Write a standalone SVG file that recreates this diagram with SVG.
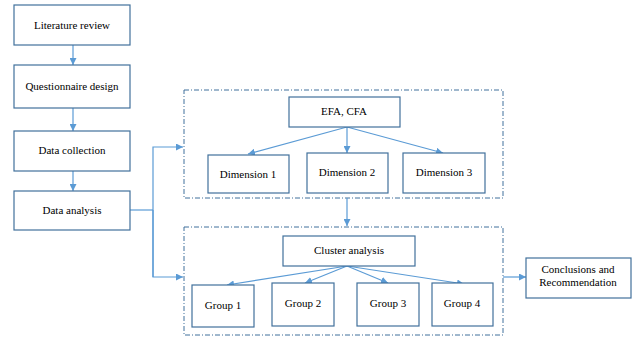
<svg xmlns="http://www.w3.org/2000/svg" width="632" height="337" viewBox="0 0 632 337">
<style>
.box{fill:#fff;stroke:#41719c;stroke-width:1.2}
.grp{fill:none;stroke:#41719c;stroke-width:1;stroke-dasharray:5 2 1 2}
.t{font-family:"Liberation Serif",serif;font-size:11px;font-weight:normal;fill:#000;stroke:none;text-anchor:middle}
.c{fill:none;stroke:#5b9bd5;stroke-width:1.2}
</style>
<defs>
<marker id="a" viewBox="0 0 8 8" refX="8" refY="4" markerWidth="7" markerHeight="7" markerUnits="userSpaceOnUse" orient="auto">
<path d="M0,0 L8,4 L0,8 z" fill="#5b9bd5"/>
</marker>
</defs>
<rect width="632" height="337" fill="#fff"/>
<g id="group-efa"><rect class="grp" x="184" y="90" width="319" height="108"/></g>
<g id="group-cluster"><rect class="grp" x="184" y="227" width="319" height="108"/></g>
<g id="connectors">
<line class="c" x1="73" y1="45" x2="73" y2="65" marker-end="url(#a)"/>
<line class="c" x1="73" y1="108" x2="73" y2="131" marker-end="url(#a)"/>
<line class="c" x1="73" y1="171" x2="73" y2="191" marker-end="url(#a)"/>
<polyline class="c" points="130,210 153,210"/>
<polyline class="c" points="153,277 153,147 183,147" marker-end="url(#a)"/>
<polyline class="c" points="153,210 153,277 183,277" marker-end="url(#a)"/>
<line class="c" x1="347" y1="127" x2="248" y2="154" marker-end="url(#a)"/>
<line class="c" x1="347" y1="127" x2="347" y2="153" marker-end="url(#a)"/>
<line class="c" x1="347" y1="127" x2="443" y2="153" marker-end="url(#a)"/>
<line class="c" x1="347" y1="198" x2="347" y2="226" marker-end="url(#a)"/>
<line class="c" x1="347" y1="266" x2="227" y2="285" marker-end="url(#a)"/>
<line class="c" x1="347" y1="266" x2="305" y2="283" marker-end="url(#a)"/>
<line class="c" x1="347" y1="266" x2="388" y2="283" marker-end="url(#a)"/>
<line class="c" x1="347" y1="266" x2="464" y2="284" marker-end="url(#a)"/>
<line class="c" x1="503" y1="277" x2="526" y2="277" marker-end="url(#a)"/>
</g>
<g id="literature"><rect class="box" x="14" y="5" width="116" height="40"/><text class="t" x="72" y="29" font-family="Liberation Serif">Literature review</text></g>
<g id="questionnaire"><rect class="box" x="14" y="65" width="116" height="43"/><text class="t" x="72" y="90">Questionnaire design</text></g>
<g id="collection"><rect class="box" x="14" y="131" width="116" height="40"/><text class="t" x="72" y="154">Data collection</text></g>
<g id="analysis"><rect class="box" x="14" y="191" width="116" height="39"/><text class="t" x="72" y="214">Data analysis</text></g>
<g id="efa"><rect class="box" x="289" y="97" width="111" height="30"/><text class="t" x="344" y="115">EFA, CFA</text></g>
<g id="dim1"><rect class="box" x="208" y="155" width="81" height="38"/><text class="t" x="248" y="178">Dimension 1</text></g>
<g id="dim2"><rect class="box" x="307" y="153" width="81" height="40"/><text class="t" x="347" y="176">Dimension 2</text></g>
<g id="dim3"><rect class="box" x="403" y="153" width="82" height="40"/><text class="t" x="444" y="176">Dimension 3</text></g>
<g id="cluster"><rect class="box" x="283" y="236" width="132" height="30"/><text class="t" x="349" y="254">Cluster analysis</text></g>
<g id="g1"><rect class="box" x="192" y="285" width="62" height="42"/><text class="t" x="223" y="309">Group 1</text></g>
<g id="g2"><rect class="box" x="272" y="283" width="62" height="43"/><text class="t" x="303" y="307">Group 2</text></g>
<g id="g3"><rect class="box" x="357" y="283" width="62" height="43"/><text class="t" x="388" y="307">Group 3</text></g>
<g id="g4"><rect class="box" x="432" y="283" width="61" height="43"/><text class="t" x="462" y="307">Group 4</text></g>
<g id="conclusions"><rect class="box" x="526" y="258" width="105" height="40"/><text class="t" x="578" y="273">Conclusions and</text><text class="t" x="578" y="286">Recommendation</text></g>
</svg>
